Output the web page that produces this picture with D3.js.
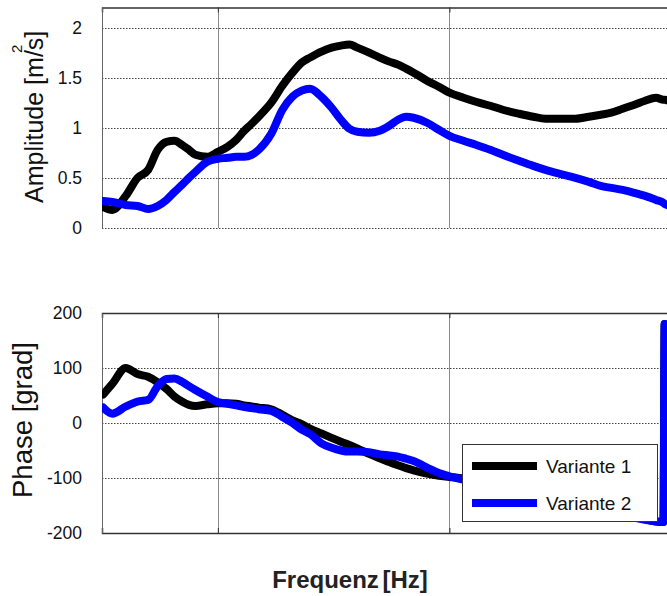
<!DOCTYPE html>
<html>
<head>
<meta charset="utf-8">
<script src="https://cdn.jsdelivr.net/npm/d3@7"></script>
<style>
  body { margin: 0; background: #fff; }
  svg { display: block; font-family: "Liberation Sans", Arial, sans-serif; }
</style>
</head>
<body>
<div id="graphicContainer"></div>
<script>
// frequencies [Hz] (log axis) shared by all curves
const freq = [3.2, 3.5, 4, 4.5, 5, 5.5, 6, 6.5, 7, 7.5,
  8, 9, 10, 11, 12, 13, 14, 15, 17, 19,
  21, 23, 25, 28, 31, 34, 37, 40, 45, 50,
  55, 60, 65, 70, 80, 90, 100, 115, 130, 150,
  170, 200, 230, 260, 300, 350, 400, 450, 500, 560,
  630, 700, 780, 840, 850, 900, 1000];

const ampV1 = [0.21, 0.18, 0.32, 0.50, 0.58, 0.78, 0.86, 0.87, 0.83, 0.78,
  0.73, 0.71, 0.76, 0.81, 0.88, 0.97, 1.04, 1.11, 1.25, 1.42,
  1.55, 1.65, 1.70, 1.76, 1.80, 1.82, 1.83, 1.80, 1.75, 1.70,
  1.66, 1.63, 1.59, 1.55, 1.47, 1.41, 1.35, 1.30, 1.26, 1.22,
  1.18, 1.14, 1.11, 1.09, 1.09, 1.09, 1.11, 1.13, 1.15, 1.19,
  1.23, 1.27, 1.30, 1.28, 1.28, 1.26, 1.20];

const ampV2 = [0.27, 0.26, 0.23, 0.22, 0.19, 0.22, 0.28, 0.36, 0.43, 0.50,
  0.56, 0.66, 0.69, 0.70, 0.71, 0.71, 0.73, 0.78, 0.94, 1.18,
  1.31, 1.37, 1.39, 1.31, 1.20, 1.08, 0.99, 0.96, 0.95, 0.97,
  1.02, 1.08, 1.11, 1.10, 1.05, 0.98, 0.92, 0.87, 0.83, 0.78,
  0.73, 0.67, 0.62, 0.58, 0.54, 0.50, 0.46, 0.42, 0.40, 0.38,
  0.35, 0.32, 0.28, 0.25, 0.24, 0.22, 0.17];

const phaseV1 = [52, 71, 100, 89, 84, 74, 62, 48, 39, 33,
  31, 34, 36, 36, 35, 32, 30, 28, 25, 15,
  5, -2, -10, -19, -27, -34, -40, -46, -56, -64,
  -71, -77, -82, -86, -92, -96, -98, -101, -106, -112,
  -118, -125, -131, -137, -143, -149, -154, -159, -163, -167,
  -171, -175, -179, -180, 180, 176, 170];

const phaseV2 = [28, 17, 30, 39, 42, 67, 80, 81, 75, 67,
  60, 48, 38, 35, 32, 29, 27, 25, 22, 11,
  0, -12, -20, -37, -45, -50, -52, -52, -53, -57,
  -59, -61, -65, -69, -81, -91, -97, -103, -108, -114,
  -120, -127, -133, -138, -144, -150, -155, -160, -164, -168,
  -172, -176, -179, -180, 180, 176, 170];

const ampTicks = [0, 0.5, 1, 1.5, 2];
const phaseTicks = [-200, -100, 0, 100, 200];
const freqGrid = [10, 100];
const seriesNames = ['Variante 1', 'Variante 2'];
const seriesColors = ['#000000', '#0000ff'];

const Width = 667, Height = 596;
const plotL = 102, plotR = 681;

const container = d3.select('#graphicContainer');
const svg = container.append('svg')
  .attr('width', Width)
  .attr('height', Height);

const x = d3.scaleLog()
  .domain([3.16, 1000])
  .range([plotL, plotR]);

const panels = [
  { id: 'amp', domain: [0, 2.2], range: [228, 7.5], ticks: ampTicks,
    series: [ampV1, ampV2], solidBottom: false },
  { id: 'phase', domain: [-200, 200], range: [533, 313], ticks: phaseTicks,
    series: [phaseV1, phaseV2], solidBottom: true }
];

panels.forEach(p => {
  const y = d3.scaleLinear().domain(p.domain).range(p.range);
  const top = p.range[1], bottom = p.range[0];
  const g = svg.append('g').attr('class', p.id);

  g.append('clipPath').attr('id', 'clip-' + p.id)
    .append('rect')
    .attr('x', plotL).attr('y', top)
    .attr('width', plotR - plotL).attr('height', bottom - top);

  // dotted horizontal grid
  const gridTicks = p.ticks.filter(t => t > p.domain[0] || !p.solidBottom)
    .filter(t => t < p.domain[1]);
  g.selectAll('.hgrid')
    .data(gridTicks)
    .enter().append('line')
    .attr('class', 'hgrid')
    .attr('x1', plotL).attr('x2', plotR)
    .attr('y1', d => Math.round(y(d)) + 0.5)
    .attr('y2', d => Math.round(y(d)) + 0.5)
    .attr('stroke', '#444')
    .attr('stroke-width', 1)
    .attr('stroke-dasharray', '1.5 1.5');

  // vertical grid
  g.selectAll('.vgrid')
    .data(freqGrid)
    .enter().append('line')
    .attr('class', 'vgrid')
    .attr('x1', d => Math.round(x(d)) + 0.5)
    .attr('x2', d => Math.round(x(d)) + 0.5)
    .attr('y1', top).attr('y2', bottom)
    .attr('stroke', '#8a8a8a')
    .attr('stroke-width', 1);

  // top border with small ticks
  g.append('g')
    .attr('transform', `translate(0,${top})`)
    .call(d3.axisTop(x).tickValues(freqGrid).tickSize(-5).tickFormat(''))
    .call(a => a.select('.domain').attr('stroke', '#333').attr('stroke-width', 1.5))
    .call(a => a.selectAll('.tick line').attr('stroke', '#333'));

  if (p.solidBottom) {
    g.append('g')
      .attr('transform', `translate(0,${bottom})`)
      .call(d3.axisBottom(x).tickValues(freqGrid).tickSize(-5).tickFormat(''))
      .call(a => a.select('.domain').attr('stroke', '#333').attr('stroke-width', 1.5))
      .call(a => a.selectAll('.tick line').attr('stroke', '#333'));
  }

  // left axis with labels
  g.append('g')
    .attr('transform', `translate(${plotL},0)`)
    .call(d3.axisLeft(y).tickValues(p.ticks).tickSize(0).tickPadding(20)
      .tickFormat(d => String(d)))
    .call(a => a.select('.domain').attr('stroke', '#666').attr('stroke-width', 1))
    .call(a => a.selectAll('text')
      .attr('font-family', '"Liberation Sans", Arial, sans-serif')
      .attr('font-size', '17.5px')
      .attr('fill', '#111'));

  // curves
  const line = d3.line()
    .x((d, i) => x(freq[i]))
    .y(d => y(d))
    .curve(d3.curveMonotoneX);

  g.append('g')
    .attr('clip-path', `url(#clip-${p.id})`)
    .selectAll('.curve')
    .data(p.series)
    .enter().append('path')
    .attr('class', 'curve')
    .attr('d', d => line(d))
    .attr('fill', 'none')
    .attr('stroke', (d, i) => seriesColors[i])
    .attr('stroke-width', 8)
    .attr('stroke-linejoin', 'round')
    .attr('stroke-linecap', 'round');
});

// y labels
const ampLabel = svg.append('g')
  .attr('transform', 'translate(43,203) rotate(-90)');
ampLabel.append('text')
  .attr('x', 0).attr('y', 0)
  .attr('font-size', '25px')
  .attr('fill', '#111')
  .text('Amplitude [m/s]');
ampLabel.append('text')
  .attr('x', 150).attr('y', -21)
  .attr('font-size', '15px')
  .attr('fill', '#111')
  .text('2');

svg.append('text')
  .attr('transform', 'translate(32,420) rotate(-90)')
  .attr('text-anchor', 'middle')
  .attr('font-size', '27.5px')
  .attr('fill', '#111')
  .text('Phase [grad]');

svg.append('text')
  .attr('x', 350).attr('y', 588)
  .attr('text-anchor', 'middle')
  .attr('font-size', '24px')
  .attr('font-weight', 'bold')
  .attr('word-spacing', '-3px')
  .attr('fill', '#222')
  .text('Frequenz [Hz]');

// legend
const legend = svg.append('g').attr('class', 'legend');
legend.append('rect')
  .attr('x', 462.5).attr('y', 444.5)
  .attr('width', 195).attr('height', 77)
  .attr('fill', '#fff')
  .attr('stroke', '#333')
  .attr('stroke-width', 1);

const legItem = legend.selectAll('.item')
  .data(seriesNames)
  .enter().append('g')
  .attr('class', 'item')
  .attr('transform', (d, i) => `translate(0,${466 + i * 37})`);
legItem.append('line')
  .attr('x1', 472).attr('x2', 537)
  .attr('y1', 0).attr('y2', 0)
  .attr('stroke', (d, i) => seriesColors[i])
  .attr('stroke-width', 8);
legItem.append('text')
  .attr('x', 546).attr('y', 7)
  .attr('font-size', '19px')
  .attr('fill', '#111')
  .text(d => d);
</script>
</body>
</html>
